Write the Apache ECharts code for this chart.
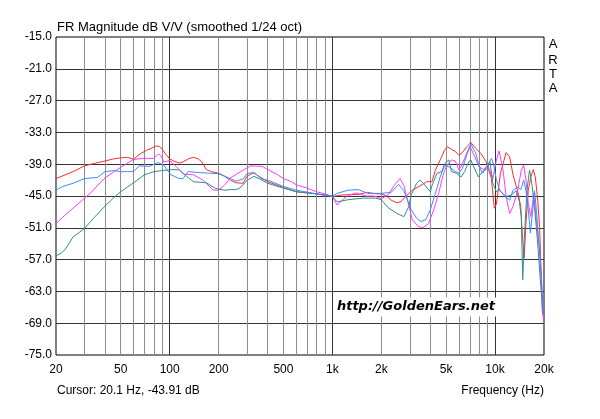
<!DOCTYPE html>
<html><head><meta charset="utf-8">
<script src="https://cdn.jsdelivr.net/npm/echarts@6/dist/echarts.min.js"></script>
<style>html,body{margin:0;padding:0;background:#fff}#c{width:600px;height:419px}</style>
</head><body><div id="c"></div>
<script>
const yTicks = [-75,-69,-63,-57,-51,-45,-39,-33,-27,-21,-15];
const xLabelFreqs = [20,50,100,200,500,1000,2000,5000,10000,20000];
const xLabelTexts = ['20','50','100','200','500','1k','2k','5k','10k','20k'];
const minorFreqs = [30,40,50,60,70,80,90,200,300,400,500,600,700,800,900,2000,3000,4000,5000,6000,7000,8000,9000];
const decadeFreqs = [100,1000,10000];
const seriesColors = ['#ff2a2a','#ff3cff','#2f8e8e','#3a8cff'];

const red = [[20,-41.7],[22,-41.2],[25.5,-40.4],[30,-39.3],[35,-38.8],[40,-38.4],[45,-38.0],[50,-37.8],[55,-37.7],[60,-38.1],[63,-37.5],[67,-36.9],[72,-36.4],[77,-36.0],[82,-35.6],[86,-35.6],[90,-36.2],[95,-37.2],[100,-38.0],[106,-38.4],[115,-38.8],[122,-38.5],[130,-38.0],[140,-37.7],[150,-38.0],[158,-38.6],[168,-40.0],[180,-40.4],[200,-40.7],[218,-41.3],[236,-42.0],[255,-42.5],[283,-42.6],[300,-41.2],[330,-40.6],[350,-41.2],[400,-42.3],[450,-42.9],[500,-43.4],[600,-44.2],[700,-44.4],[800,-44.6],[900,-44.8],[1000,-45.1],[1150,-44.8],[1450,-44.7],[1640,-44.3],[1850,-44.6],[2000,-44.6],[2150,-45.0],[2300,-45.8],[2500,-46.3],[2650,-46.0],[2850,-45.0],[3100,-43.9],[3500,-43.0],[3800,-42.3],[4100,-42.3],[4300,-40.1],[4600,-38.2],[4900,-36.3],[5100,-35.7],[5400,-36.2],[5700,-36.6],[6000,-37.3],[6300,-36.8],[6700,-35.7],[7100,-34.9],[7600,-36.0],[8200,-37.0],[8800,-38.5],[9500,-41.7],[9900,-47.3],[10200,-46.5],[10800,-40.7],[11200,-38.9],[11700,-36.8],[12300,-37.6],[12900,-41.0],[13800,-44.2],[14400,-47.0],[14700,-52.0],[15100,-56.7],[15500,-50.0],[16000,-44.0],[16600,-41.4],[17200,-40.0],[17700,-41.5],[18300,-45.8],[18800,-51.0],[19100,-57.6],[19500,-66.5],[20000,-68.8]];

const magenta = [[20,-50.2],[22,-49.0],[25.5,-47.3],[28,-46.2],[30,-45.4],[33,-44.3],[36,-43.0],[40,-41.6],[45,-40.5],[50,-39.6],[55,-38.8],[60,-38.1],[70,-37.9],[80,-37.9],[85,-37.1],[88,-37.3],[92,-38.6],[100,-38.3],[110,-39.5],[122,-40.9],[140,-41.0],[160,-42.0],[185,-43.9],[200,-43.9],[218,-42.9],[236,-41.6],[260,-40.8],[295,-39.8],[315,-39.3],[370,-39.4],[400,-40.0],[450,-40.8],[500,-41.7],[560,-42.3],[600,-42.9],[700,-43.5],[800,-44.2],[900,-44.6],[1000,-45.1],[1070,-46.7],[1150,-45.8],[1250,-44.9],[1400,-44.4],[1600,-45.0],[1800,-45.0],[2000,-45.5],[2200,-44.8],[2400,-43.0],[2600,-41.7],[2750,-43.0],[2950,-46.7],[3100,-49.5],[3400,-50.8],[3600,-51.0],[3900,-50.2],[4200,-47.6],[4500,-44.5],[4800,-41.0],[5000,-39.5],[5400,-38.2],[5700,-38.4],[6000,-40.1],[6300,-38.9],[6700,-36.9],[7000,-35.6],[7500,-37.6],[8000,-39.5],[8500,-40.0],[9000,-39.2],[9700,-41.7],[10200,-38.2],[10600,-36.5],[11200,-40.1],[11700,-45.1],[12300,-48.3],[12900,-47.0],[13800,-43.9],[14500,-40.1],[15000,-39.2],[15500,-42.0],[16000,-46.3],[16600,-48.9],[17300,-44.5],[18000,-50.0],[18800,-55.0],[19300,-60.0],[19700,-66.0],[20000,-69.0]];

const teal = [[20,-56.3],[21.5,-55.8],[22.6,-55.2],[24,-54.0],[25.5,-52.7],[28,-51.8],[30,-51.1],[34,-49.2],[40,-46.9],[45,-45.4],[50,-44.2],[55,-43.3],[60,-42.5],[70,-41.0],[80,-40.4],[90,-40.2],[105,-40.0],[115,-40.1],[128,-41.4],[140,-42.3],[168,-42.5],[192,-43.6],[218,-43.9],[235,-43.8],[255,-43.8],[270,-43.5],[300,-42.0],[330,-41.3],[360,-41.8],[400,-42.6],[500,-43.5],[600,-44.2],[800,-44.6],[1000,-45.1],[1070,-46.1],[1250,-45.7],[1550,-45.4],[1840,-45.4],[2000,-45.7],[2200,-47.2],[2500,-48.3],[2750,-48.9],[2950,-47.0],[3050,-44.8],[3300,-42.6],[3450,-42.0],[3600,-42.5],[4000,-44.2],[4100,-43.0],[4400,-40.7],[4700,-40.4],[4900,-38.9],[5200,-38.2],[5400,-40.4],[5800,-40.7],[6200,-41.4],[6500,-40.4],[6900,-38.5],[7100,-38.2],[7400,-39.5],[7900,-41.4],[8500,-40.2],[9000,-39.8],[9300,-38.5],[9700,-42.6],[10200,-44.2],[10600,-43.9],[11700,-45.1],[12600,-44.8],[13500,-44.0],[14100,-46.0],[14500,-48.9],[14800,-60.8],[15200,-52.0],[15700,-44.0],[16300,-40.1],[16900,-43.0],[17600,-48.0],[18300,-54.0],[19000,-61.0],[19600,-66.0],[20000,-67.5]];

const blue = [[20,-43.9],[22,-43.2],[25.5,-42.6],[30,-41.7],[36,-41.5],[40,-40.4],[45,-40.2],[50,-40.4],[55,-40.4],[60,-40.4],[65,-39.3],[75,-39.4],[85,-38.7],[92,-39.2],[97,-40.2],[102,-41.0],[112,-41.6],[120,-41.8],[130,-40.4],[155,-40.6],[176,-40.7],[200,-40.8],[236,-41.7],[255,-42.2],[283,-41.8],[300,-40.7],[330,-40.6],[370,-41.8],[400,-42.0],[500,-43.2],[600,-43.9],[800,-44.6],[1000,-45.0],[1070,-44.5],[1250,-43.9],[1450,-43.8],[1650,-44.5],[2000,-44.5],[2150,-44.4],[2300,-44.3],[2550,-42.8],[2750,-44.0],[3050,-47.6],[3300,-49.2],[3500,-49.8],[3750,-49.5],[4000,-47.6],[4300,-44.5],[4600,-41.4],[4900,-39.2],[5300,-39.6],[5700,-40.4],[6000,-40.7],[6300,-39.8],[6700,-37.3],[7100,-35.2],[7600,-36.9],[8000,-39.5],[8400,-40.7],[9000,-39.2],[9500,-37.9],[9800,-39.0],[10200,-42.0],[10700,-43.9],[11500,-45.1],[12300,-45.8],[12900,-43.9],[13800,-43.3],[14400,-43.8],[15000,-42.0],[15500,-44.0],[16000,-47.6],[16500,-52.0],[17000,-48.0],[17500,-44.0],[18000,-48.0],[18800,-56.0],[19400,-63.0],[20000,-67.5]];

const seriesData = [red, magenta, teal, blue];
const L = Math.log10;
const FONT = 'Arial, "Liberation Sans", sans-serif';

const chart = echarts.init(document.getElementById('c'), null, {renderer:'canvas'});
chart.setOption({
  animation:false,
  backgroundColor:'#fff',
  grid:{left:56, top:37, width:488, height:318, show:true, borderColor:'#000', borderWidth:1, backgroundColor:'transparent'},
  xAxis:[
    {type:'log', logBase:10, min:20, max:20000, show:false},
    {type:'value', min:L(20), max:L(20000), position:'bottom',
      axisLine:{show:false}, axisTick:{show:false, customValues:minorFreqs.map(L)},
      splitLine:{show:true, lineStyle:{color:'#8c8c8c', width:1}},
      axisLabel:{show:true, customValues:xLabelFreqs.map(L), margin:9, color:'#000', fontSize:12, fontFamily:FONT,
        formatter:function(v){ for (let i=0;i<xLabelFreqs.length;i++){ if (Math.abs(L(xLabelFreqs[i])-v)<1e-6) return xLabelTexts[i]; } return ''; }}},
    {type:'value', min:L(20), max:L(20000), position:'bottom',
      axisLine:{show:false}, axisTick:{show:false, customValues:decadeFreqs.map(L)},
      axisLabel:{show:false}, splitLine:{show:true, lineStyle:{color:'#333', width:1}}}
  ],
  yAxis:{type:'value', min:-75, max:-15,
    axisLine:{show:false}, axisTick:{show:false, customValues:yTicks.slice(1,-1)},
    splitLine:{show:true, lineStyle:{color:'#333', width:1}},
    axisLabel:{customValues:yTicks, margin:4, color:'#000', fontSize:12, fontFamily:FONT, formatter:function(v){return v.toFixed(1);}}},
  series: seriesData.map(function(d,i){ return {type:'line', xAxisIndex:0, yAxisIndex:0, data:d, symbol:'none', showSymbol:false, silent:true, lineStyle:{width:1, color:seriesColors[i]}, itemStyle:{color:seriesColors[i]}}; }),
  graphic:[
    {type:'text', x:57, y:27, style:{text:'FR Magnitude dB V/V (smoothed 1/24 oct)', font:'13px '+FONT, fill:'#000', verticalAlign:'middle', align:'left'}},
    {type:'text', x:57, y:391, style:{text:'Cursor: 20.1 Hz, -43.91 dB', font:'12px '+FONT, fill:'#000', verticalAlign:'middle', align:'left'}},
    {type:'text', x:544, y:391, style:{text:'Frequency (Hz)', font:'12px '+FONT, fill:'#000', verticalAlign:'middle', align:'right'}},
    {type:'text', x:553, y:44, style:{text:'A', font:'13px '+FONT, fill:'#000', verticalAlign:'middle', align:'center'}},
    {type:'text', x:553, y:60, style:{text:'R', font:'13px '+FONT, fill:'#000', verticalAlign:'middle', align:'center'}},
    {type:'text', x:553, y:74, style:{text:'T', font:'13px '+FONT, fill:'#000', verticalAlign:'middle', align:'center'}},
    {type:'text', x:553, y:88.5, style:{text:'A', font:'13px '+FONT, fill:'#000', verticalAlign:'middle', align:'center'}},
    {type:'text', x:416, y:307, z:50, style:{text:'http://GoldenEars.net', font:'italic bold 13px "DejaVu Sans", Verdana, sans-serif', fill:'#000', verticalAlign:'middle', align:'center', backgroundColor:'#fff', padding:[3,3]}}
  ]
});
</script></body></html>
